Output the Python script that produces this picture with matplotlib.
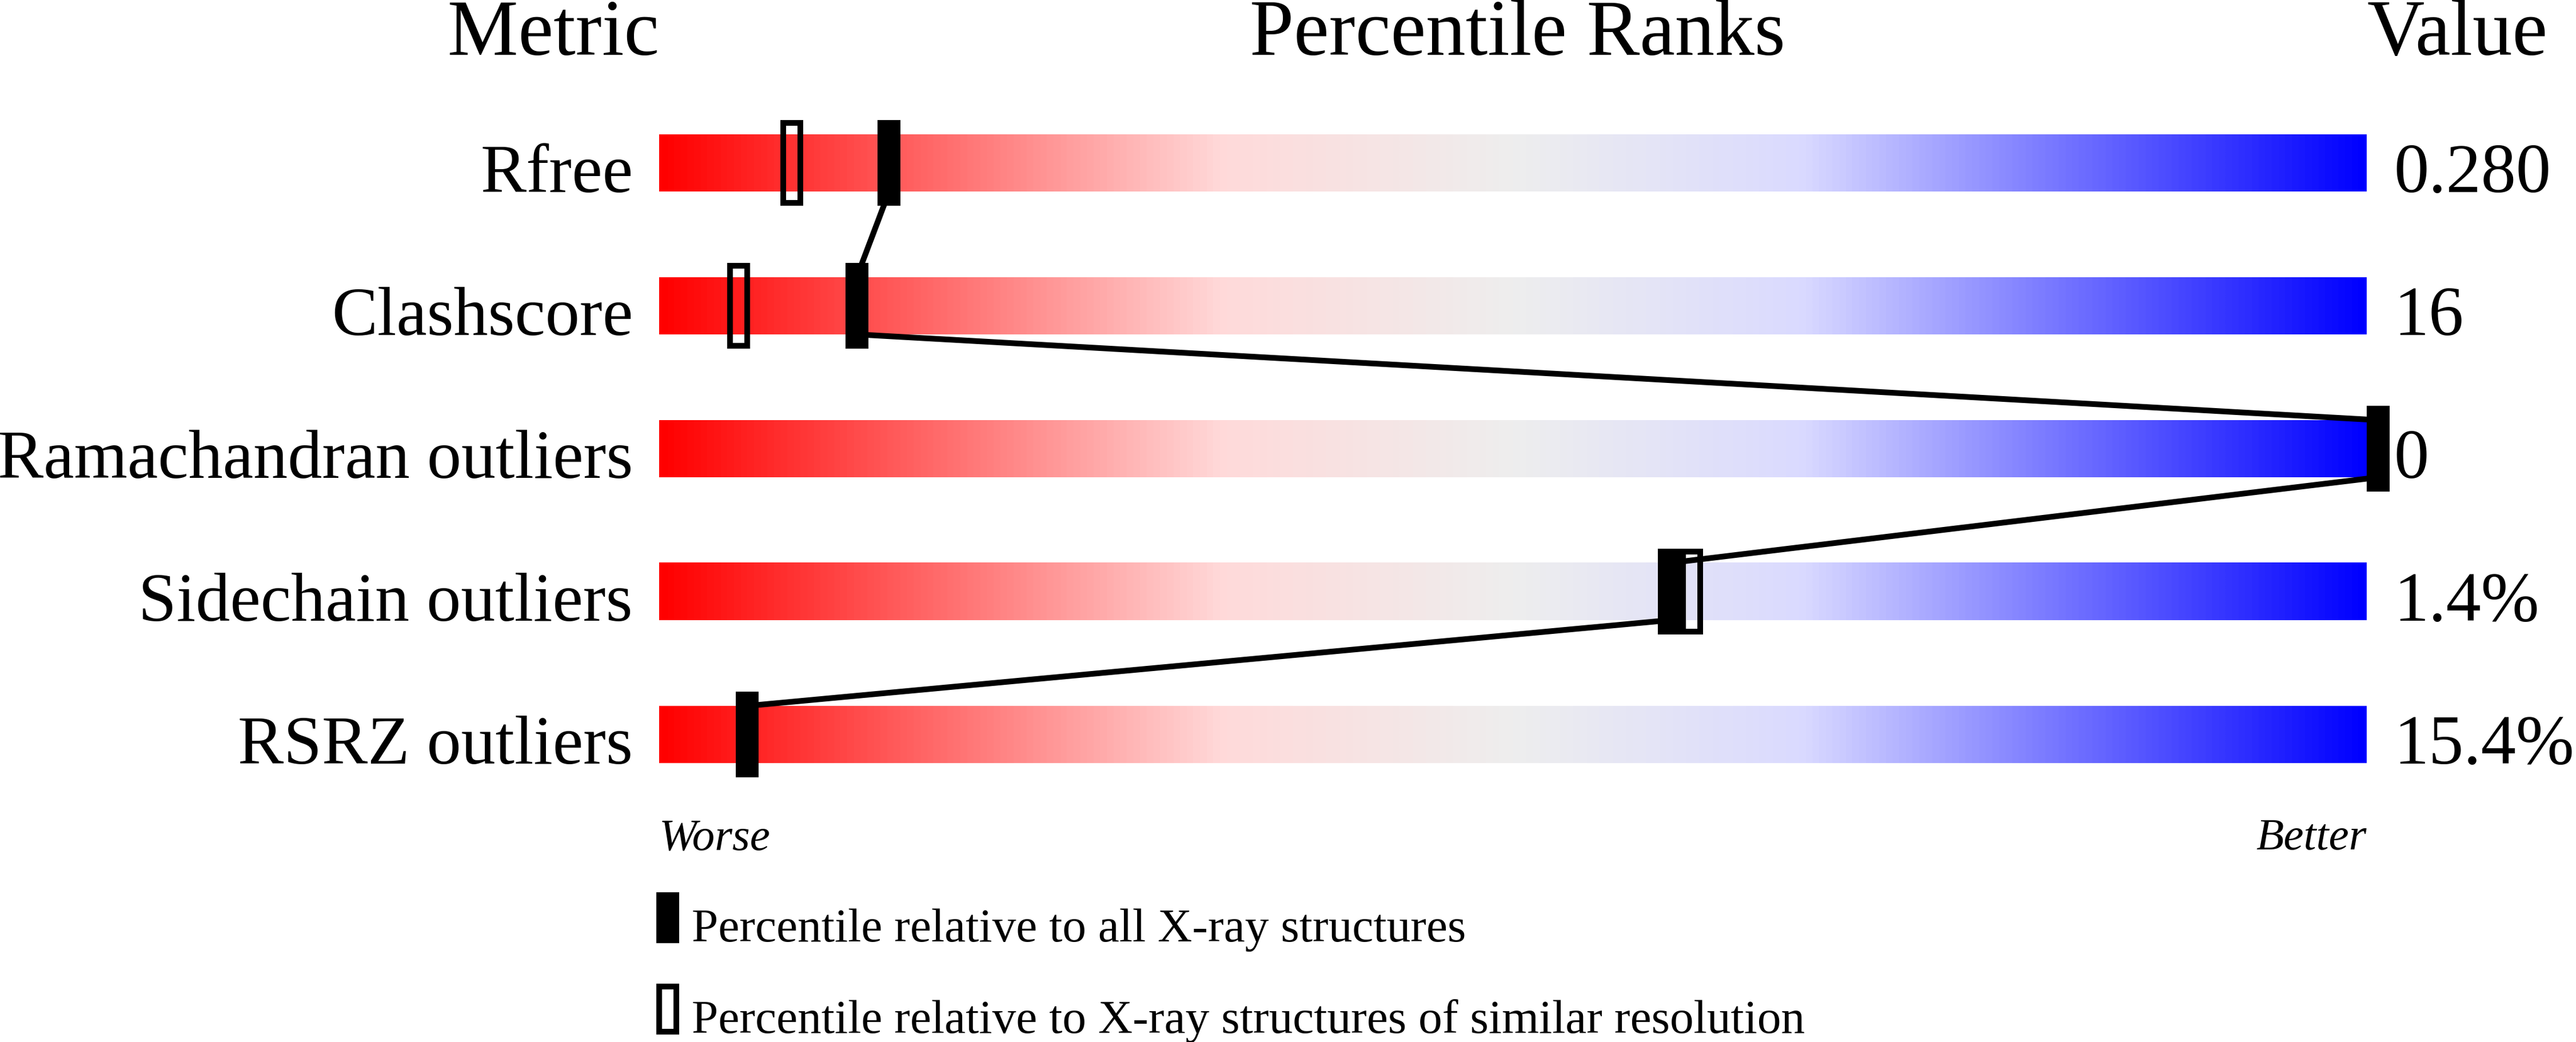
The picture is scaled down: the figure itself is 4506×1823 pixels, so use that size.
import numpy as np
import matplotlib
matplotlib.use("Agg")
import matplotlib.pyplot as plt
from matplotlib.colors import LinearSegmentedColormap
from matplotlib.patches import Rectangle

# data
metrics = ["Rfree", "Clashscore", "Ramachandran outliers", "Sidechain outliers", "RSRZ outliers"]
values = ["0.280", "16", "0", "1.4%", "15.4%"]
pct_all = [12.8, 10.9, 100.0, 58.5, 4.5]          # percentile vs all X-ray structures
pct_similar = [7.1, 4.0, 100.0, 59.8, 4.5]        # percentile vs similar resolution
legend_labels = ["Percentile relative to all X-ray structures",
                 "Percentile relative to X-ray structures of similar resolution"]

SERIF = ["Liberation Serif", "Tinos", "DejaVu Serif"]
plt.rcParams["font.family"] = SERIF

W, H, DPI = 4506, 1824, 100
BAR_L, BAR_R = 1153, 4140          # bar extent in pixels
PX = 100.0 / (BAR_R - BAR_L)       # percent per pixel
ROW0, ROW_STEP = 286, 250          # first row centre / row spacing (pixels)
PT = 72.0 / DPI                    # points per pixel

fig = plt.figure(figsize=(W / DPI, H / DPI), dpi=DPI)
ax = fig.add_axes([0, 0, 1, 1])
ax.set_xlim(-BAR_L * PX, (W - BAR_L) * PX)
ax.set_ylim((H - ROW0) / ROW_STEP, -ROW0 / ROW_STEP)
ax.axis("off")

cmap = LinearSegmentedColormap.from_list(
    "rank", [(0.0, "#ff0000"), (0.33, "#ffdada"), (0.5, "#eeeeee"),
             (0.67, "#dadaff"), (1.0, "#0000ff")])
grad = np.linspace(0, 1, 512).reshape(1, -1)

bar_h = 100 / ROW_STEP
mk_h = 150 / ROW_STEP
mk_w = 40 * PX
edge = 10  # px

rows = np.arange(len(metrics))
for i in rows:
    ax.imshow(grad, cmap=cmap, aspect="auto", interpolation="bilinear",
              extent=[0, 100, i + bar_h / 2, i - bar_h / 2], zorder=1)
    ax.text(-46 * PX, i + bar_h / 2, metrics[i], ha="right", va="baseline",
            fontsize=86.5, family=SERIF)
    ax.text(100 + 47 * PX, i + bar_h / 2, values[i], ha="left", va="baseline",
            fontsize=88, family=SERIF)

# connecting line between the filled markers
for i in rows[:-1]:
    ax.plot([pct_all[i] + mk_w / 2, pct_all[i + 1] + mk_w / 2],
            [i + bar_h / 2, i + 1 - bar_h / 2],
            color="black", lw=edge * PT, solid_capstyle="butt", zorder=2)

for i in rows:
    ax.add_patch(Rectangle((pct_similar[i] + edge / 2 * PX, i - mk_h / 2 + edge / 2 / ROW_STEP),
                           mk_w - edge * PX, mk_h - edge / ROW_STEP,
                           facecolor="none", edgecolor="black", lw=edge * PT, zorder=3))
    ax.add_patch(Rectangle((pct_all[i], i - mk_h / 2), mk_w, mk_h,
                           facecolor="black", edgecolor="none", zorder=4))

# headers
hdr_y = (96 - ROW0) / ROW_STEP
ax.text(0, hdr_y, "Metric", ha="right", va="baseline", fontsize=100, family=SERIF)
ax.text(50 + 8 * PX, hdr_y, "Percentile Ranks", ha="center", va="baseline", fontsize=100, family=SERIF)
ax.text(100, hdr_y, "Value", ha="left", va="baseline", fontsize=100, family=SERIF)

# worse / better
wb_y = (1486 - ROW0) / ROW_STEP
ax.text(0, wb_y, "Worse", ha="left", va="baseline", fontsize=57, style="italic", family=SERIF)
ax.text(100, wb_y, "Better", ha="right", va="baseline", fontsize=57, style="italic", family=SERIF)

# legend
leg_x = (1148 - BAR_L) * PX
leg_top = [(1562 - ROW0) / ROW_STEP, (1722 - ROW0) / ROW_STEP]
leg_h = 89 / ROW_STEP
ax.add_patch(Rectangle((leg_x, leg_top[0]), mk_w, leg_h, facecolor="black", edgecolor="none"))
ax.add_patch(Rectangle((leg_x + edge / 2 * PX, leg_top[1] + edge / 2 / ROW_STEP),
                       mk_w - edge * PX, leg_h - edge / ROW_STEP,
                       facecolor="none", edgecolor="black", lw=edge * PT))
for k, lab in enumerate(legend_labels):
    ax.text((1210 - BAR_L) * PX, leg_top[k] + 85 / ROW_STEP, lab,
            ha="left", va="baseline", fontsize=60, family=SERIF)

fig.savefig("out.png", dpi=DPI, facecolor="white")
